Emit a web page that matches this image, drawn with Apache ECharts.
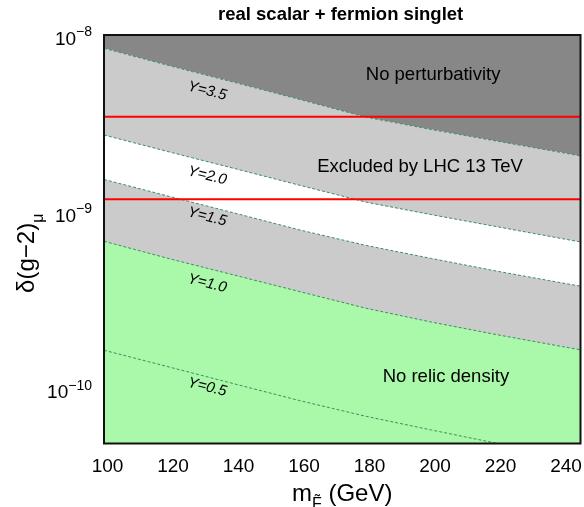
<!DOCTYPE html>
<html><head><meta charset="utf-8">
<script src="https://cdn.jsdelivr.net/npm/echarts@6/dist/echarts.min.js"></script>
<style>html,body{margin:0;padding:0;background:#fff}#c{width:584px;height:507px}</style>
</head><body><div id="c"></div>
<script>
// ---- data ----
const xs   = [100, 120, 140, 160, 180, 200, 220, 240, 245.5];
const Y35  = [8.41e-9, 6.70e-9, 5.38e-9, 4.31e-9, 3.43e-9, 2.92e-9, 2.51e-9, 2.16e-9, 2.07e-9];
const Y20  = [2.72e-9, 2.18e-9, 1.755e-9, 1.41e-9, 1.135e-9, 9.64e-10, 8.24e-10, 7.05e-10, 6.76e-10];
const Y15  = [1.525e-9, 1.222e-9, 9.83e-10, 7.88e-10, 6.46e-10, 5.45e-10, 4.62e-10, 3.96e-10, 3.80e-10];
const Y10  = [6.82e-10, 5.43e-10, 4.38e-10, 3.53e-10, 2.85e-10, 2.38e-10, 2.02e-10, 1.73e-10, 1.66e-10];
const Y05  = [1.65e-10, 1.325e-10, 1.063e-10, 8.54e-11, 6.98e-11, 5.84e-11, 4.91e-11, 4.14e-11, 3.96e-11];
const redLevels = [3.45e-9, 1.18e-9];
const xRange = [100, 245.5];
const yRange = [4.9e-11, 1e-8];
const xTicks = [100, 120, 140, 160, 180, 200, 220, 240];
const regionTexts = [
  {text: 'No perturbativity', x: 200.5, y: 5.94e-9},
  {text: 'Excluded by LHC 13 TeV', x: 196.5, y: 1.79e-9},
  {text: 'No relic density', x: 204.4, y: 1.164e-10}
];
const curveLabels = [
  {text: 'Y=3.5', x: 131.5, y: 4.82e-9},
  {text: 'Y=2.0', x: 131.5, y: 1.60e-9},
  {text: 'Y=1.5', x: 131.5, y: 9.37e-10},
  {text: 'Y=1.0', x: 131.5, y: 3.94e-10},
  {text: 'Y=0.5', x: 131.5, y: 1.02e-10}
];

const FONT = '"Liberation Sans", Arial, Helvetica, sans-serif';
const pts = arr => xs.map((x, i) => [x, arr[i]]);

function area(arr, color, origin) {
  return {type: 'line', data: pts(arr), symbol: 'none', silent: true,
    lineStyle: {width: 0}, areaStyle: {color: color, opacity: 1, origin: origin}};
}
function dashed(arr) {
  return {type: 'line', data: pts(arr), symbol: 'none', silent: true,
    lineStyle: {color: '#3d8f60', width: 1, type: [3, 2]}};
}
function redLine(v) {
  return {type: 'line', data: [[xRange[0], v], [xRange[1], v]], symbol: 'none', silent: true,
    lineStyle: {color: '#ff0000', width: 2}};
}

const chart = echarts.init(document.getElementById('c'), null, {renderer: 'canvas'});
chart.setOption({
  animation: false,
  backgroundColor: '#ffffff',
  textStyle: {fontFamily: FONT},
  title: {
    text: 'real scalar + fermion singlet', left: 218, top: 5, padding: 0,
    textStyle: {fontSize: 18.5, fontWeight: 'bold', color: '#000', fontFamily: FONT}
  },
  grid: {left: 104, right: 3.5, top: 35, bottom: 63.5, show: true, z: 10,
    backgroundColor: 'transparent', borderColor: '#111', borderWidth: 2, outerBoundsMode: 'none'},
  xAxis: {
    type: 'value', min: xRange[0], max: xRange[1], interval: 20,
    axisLine: {show: false}, axisTick: {show: false}, splitLine: {show: false},
    axisLabel: {fontSize: 19, color: '#000', margin: 14, padding: [0, 0, 0, 7], showMaxLabel: false,
      alignMinLabel: 'center', alignMaxLabel: 'center', hideOverlap: false,
      formatter: v => xTicks.indexOf(v) >= 0 ? String(v) : ''},
    name: '{a|m}{s|F\u0303}{a| (GeV)}', nameLocation: 'middle', nameGap: 39, nameMoveOverlap: false,
    nameTextStyle: {rich: {
      a: {fontSize: 24, color: '#000', fontFamily: FONT, lineHeight: 30, verticalAlign: 'top'},
      s: {fontSize: 16, color: '#000', fontFamily: FONT, lineHeight: 30, verticalAlign: 'bottom'}
    }}
  },
  yAxis: {
    type: 'log', logBase: 10, min: yRange[0], max: yRange[1],
    axisLine: {show: false}, axisTick: {show: false}, splitLine: {show: false}, minorTick: {show: false},
    axisLabel: {
      color: '#000', margin: 12, showMinLabel: false, padding: [4, 0, 0, 0],
      formatter: function (v) {
        const l = Math.log10(v), e = Math.round(l);
        if (Math.abs(l - e) > 1e-6) return '';
        return '{b|10}{s|\u2212' + (-e) + '}';
      },
      rich: {
        b: {fontSize: 19, color: '#000', fontFamily: FONT, lineHeight: 24, verticalAlign: 'bottom'},
        s: {fontSize: 14, color: '#000', fontFamily: FONT, lineHeight: 24, verticalAlign: 'top'}
      }
    },
    name: '{a|\u03b4(g\u22122)}{u|\u03bc}', nameLocation: 'middle', nameRotate: 90, nameGap: 57,
    nameMoveOverlap: false,
    nameTextStyle: {padding: [0, 28, 0, 0], rich: {
      a: {fontSize: 24, color: '#000', fontFamily: FONT, lineHeight: 32, verticalAlign: 'top'},
      u: {fontSize: 16, color: '#000', fontFamily: FONT, lineHeight: 32, verticalAlign: 'bottom'}
    }}
  },
  series: [
    area(Y35, '#878787', 'end'),
    area(Y35, '#cbcbcb', 'start'),
    area(Y20, '#ffffff', 'start'),
    area(Y15, '#cbcbcb', 'start'),
    area(Y10, '#aaf8aa', 'start'),
    dashed(Y35), dashed(Y20), dashed(Y15), dashed(Y10), dashed(Y05),
    redLine(redLevels[0]), redLine(redLevels[1])
  ]
});

const g = [];
regionTexts.forEach(t => {
  const p = chart.convertToPixel({gridIndex: 0}, [t.x, t.y]);
  g.push({type: 'text', x: p[0], y: p[1], z: 20, silent: true,
    style: {text: t.text, fill: '#000', font: '18.5px ' + FONT, align: 'center', verticalAlign: 'middle',
      textAlign: 'center', textVerticalAlign: 'middle'}});
});
curveLabels.forEach(t => {
  const p = chart.convertToPixel({gridIndex: 0}, [t.x, t.y]);
  g.push({type: 'text', x: p[0], y: p[1], z: 20, silent: true, rotation: -14 * Math.PI / 180,
    style: {text: t.text, fill: '#000', font: 'italic 15px ' + FONT, align: 'center', verticalAlign: 'middle',
      textAlign: 'center', textVerticalAlign: 'middle'}});
});
chart.setOption({graphic: g});
</script></body></html>
